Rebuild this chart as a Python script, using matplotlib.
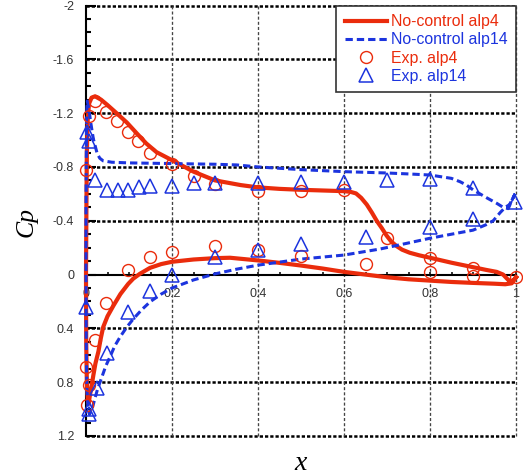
import matplotlib
matplotlib.use("Agg")
import matplotlib.pyplot as plt
from matplotlib.ticker import MultipleLocator

RED = "#ea2c0c"
BLUE = "#1c34de"

# computed Cp, alpha = 4 deg (upper surface TE -> LE, then lower surface LE -> TE)
nc4_x = [1.0, 0.992, 0.982, 0.97, 0.955, 0.93, 0.9, 0.85, 0.8, 0.775, 0.753, 0.735,
         0.723, 0.71, 0.699, 0.688, 0.676, 0.665, 0.653, 0.64, 0.628, 0.615, 0.6,
         0.55, 0.5, 0.45, 0.4, 0.36, 0.3, 0.25, 0.2, 0.164, 0.14, 0.118, 0.095,
         0.071, 0.05, 0.035, 0.021, 0.013, 0.007, 0.004, 0.002, 0.001, 0.0, 0.0005,
         0.002, 0.004,
         0.006, 0.009, 0.013, 0.017, 0.022, 0.029, 0.034, 0.04, 0.05, 0.064, 0.08,
         0.098, 0.11, 0.125, 0.149, 0.175, 0.2, 0.25, 0.3, 0.335, 0.4, 0.45, 0.5,
         0.55, 0.6, 0.65, 0.7, 0.75, 0.8, 0.85, 0.9, 0.95, 0.975, 0.99, 1.0]
nc4_cp = [0.02, 0.05, 0.04, 0.0, -0.02, -0.035, -0.055, -0.088, -0.125, -0.143,
          -0.162, -0.185, -0.21, -0.245, -0.29, -0.345, -0.40, -0.46, -0.52, -0.57,
          -0.603, -0.615, -0.62, -0.625, -0.63, -0.637, -0.648, -0.665, -0.70,
          -0.765, -0.85, -0.91, -0.975, -1.05, -1.13, -1.20, -1.26, -1.30, -1.325,
          -1.315, -1.27, -1.15, -0.9, -0.5, 0.0, 0.5, 0.8, 0.92,
          0.96, 0.9, 0.83, 0.75, 0.66, 0.57, 0.48, 0.39, 0.31, 0.23, 0.145, 0.07,
          0.03, -0.005, -0.05, -0.078, -0.095, -0.112, -0.122, -0.125, -0.105,
          -0.087, -0.067, -0.045, -0.02, 0.0, 0.02, 0.035, 0.045, 0.055, 0.062,
          0.068, 0.072, 0.065, 0.02]

# computed Cp, alpha = 14 deg
nc14_x = [0.998, 0.99, 0.982, 0.97, 0.955, 0.935, 0.916, 0.9, 0.885, 0.87, 0.85, 0.8,
          0.75, 0.7, 0.65, 0.6, 0.5, 0.4, 0.35, 0.3, 0.2, 0.1, 0.06, 0.04, 0.032,
          0.026, 0.021, 0.017, 0.014, 0.011, 0.008, 0.005, 0.003, 0.0015, 0.001,
          0.0, 0.0, 0.0005, 0.002, 0.005, 0.008,
          0.014, 0.02, 0.027, 0.036, 0.046, 0.056, 0.067, 0.08, 0.095, 0.11, 0.13,
          0.15, 0.175, 0.2, 0.25, 0.3, 0.35, 0.4, 0.5, 0.6, 0.684, 0.75, 0.8, 0.85,
          0.9, 0.93, 0.947, 0.963, 0.975, 0.985, 0.998]
nc14_cp = [-0.6, -0.55, -0.49, -0.5, -0.53, -0.565, -0.6, -0.63, -0.665, -0.69,
           -0.715, -0.74, -0.748, -0.755, -0.76, -0.765, -0.78, -0.80, -0.815,
           -0.82, -0.825, -0.83, -0.835, -0.845, -0.865, -0.9, -0.96, -1.01, -1.07,
           -1.13, -1.2, -1.26, -1.29, -1.2, -1.0, -0.5, 0.0, 0.5, 0.85, 1.0, 1.04,
           1.0, 0.93, 0.85, 0.77, 0.68, 0.61, 0.53, 0.46, 0.39, 0.33, 0.26, 0.2,
           0.145, 0.1, 0.04, -0.005, -0.04, -0.07, -0.115, -0.145, -0.19, -0.235,
           -0.27, -0.30, -0.33, -0.37, -0.40, -0.46, -0.5, -0.52, -0.6]

# measured Cp
exp4_x = [0.0, 0.008, 0.021, 0.046, 0.073, 0.098, 0.122, 0.149, 0.2, 0.25, 0.3, 0.4,
          0.5, 0.6, 0.7, 0.8, 0.9, 1.0, 0.9, 0.8, 0.65, 0.5, 0.4, 0.3, 0.2, 0.149,
          0.098, 0.047, 0.021, 0.0, 0.008, 0.003]
exp4_cp = [-0.78, -1.18, -1.29, -1.21, -1.14, -1.06, -0.99, -0.90, -0.82, -0.73,
           -0.67, -0.62, -0.62, -0.63, -0.27, -0.12, -0.05, 0.015, 0.01, -0.02,
           -0.075, -0.135, -0.18, -0.21, -0.17, -0.13, -0.035, 0.21, 0.49, 0.69,
           0.82, 0.97]

exp14_x = [0.003, 0.006, 0.021, 0.048, 0.074, 0.098, 0.123, 0.149, 0.2, 0.25, 0.3,
           0.4, 0.5, 0.6, 0.7, 0.8, 0.9, 0.998, 0.9, 0.8, 0.65, 0.5, 0.4, 0.3, 0.2,
           0.149, 0.098, 0.048, 0.025, 0.006, 0.008, 0.0]
exp14_cp = [-1.06, -0.99, -0.70, -0.63, -0.63, -0.63, -0.65, -0.66, -0.66, -0.68,
            -0.68, -0.68, -0.69, -0.69, -0.70, -0.71, -0.645, -0.54, -0.41, -0.35,
            -0.28, -0.23, -0.185, -0.13, 0.0, 0.12, 0.28, 0.58, 0.84, 1.0, 1.04,
            0.24]

xticks = [0, 0.2, 0.4, 0.6, 0.8, 1.0]
xticklabels = ["0", "0.2", "0.4", "0.6", "0.8", "1"]
yticks = [-2, -1.6, -1.2, -0.8, -0.4, 0, 0.4, 0.8, 1.2]
yticklabels = ["-2", "-1.6", "-1.2", "-0.8", "-0.4", "0", "0.4", "0.8", "1.2"]

fig = plt.figure(figsize=(5.23, 4.74), dpi=100)
ax = fig.add_axes([86 / 523, 38 / 474, 430 / 523, 430.5 / 474])
ax.set_xlim(0, 1)
ax.set_ylim(1.2, -2)

# grid: heavy black dots across, light grey dashes down
for yv in yticks:
    if yv != 0:
        ax.axhline(yv, color="black", lw=1.8, ls=(0, (1.3, 0.8)), clip_on=False, zorder=1)
for xv in xticks[1:]:
    ax.axvline(xv, color="#444444", lw=0.95, ls=(0, (2.3, 1.6)), clip_on=False, zorder=2)

ax.plot(nc4_x, nc4_cp, color=RED, lw=3.0, solid_joinstyle="round",
        label="No-control alp4", clip_on=False, zorder=3)
ax.plot(nc14_x, nc14_cp, color=BLUE, lw=2.2, ls=(0, (2.4, 1.3)),
        label="No-control alp14", clip_on=False, zorder=3)
ax.plot(exp4_x, exp4_cp, ls="none", marker="o", ms=8.6, mfc="none", mec=RED, mew=1.0,
        color=RED, label="Exp. alp4", clip_on=False, zorder=4)
ax.plot(exp14_x, exp14_cp, ls="none", marker="^", ms=9.5, mfc="none", mec=BLUE, mew=1.1,
        color=BLUE, label="Exp. alp14", clip_on=False, zorder=4)

ax.spines["top"].set_visible(False)
ax.spines["right"].set_visible(False)
ax.spines["bottom"].set_position(("data", 0))
ax.spines["bottom"].set_linewidth(1.5)
ax.spines["left"].set_linewidth(1.5)

tick_font = dict(family="Liberation Sans", size=9)
ax.set_xticks(xticks)
ax.set_xticklabels(xticklabels, fontdict=tick_font, color="#333333")
ax.set_yticks(yticks)
ax.set_yticklabels(yticklabels, fontdict=tick_font, color="#333333")
ax.xaxis.set_minor_locator(MultipleLocator(0.05))
ax.yaxis.set_minor_locator(MultipleLocator(0.1))
ax.tick_params(axis="x", which="both", direction="in", length=2.2, width=1.1, pad=10)
ax.tick_params(axis="y", which="major", direction="in", length=7, width=1.5, pad=8.6)
ax.tick_params(axis="y", which="minor", direction="in", length=3.6, width=1.5)

fig.text(27 / 523, 1 - 222 / 474, "Cp", family="Liberation Serif", style="italic",
         size=18.5, rotation=90, ha="center", va="center")
fig.text(301 / 523, 1 - 463 / 474, "x", family="Liberation Serif", style="italic",
         size=20, ha="center", va="center")

leg = ax.legend(loc="upper right", bbox_to_anchor=(1.0, 1.0), borderaxespad=0,
                prop=dict(family="Liberation Sans", size=11.4), labelcolor="linecolor",
                handlelength=2.7, handletextpad=0.2, labelspacing=0.2,
                borderpad=0.55, fancybox=False, framealpha=1)
leg.get_frame().set_edgecolor("#333333")
leg.get_frame().set_linewidth(1.2)

fig.savefig("out.png", dpi=100)
